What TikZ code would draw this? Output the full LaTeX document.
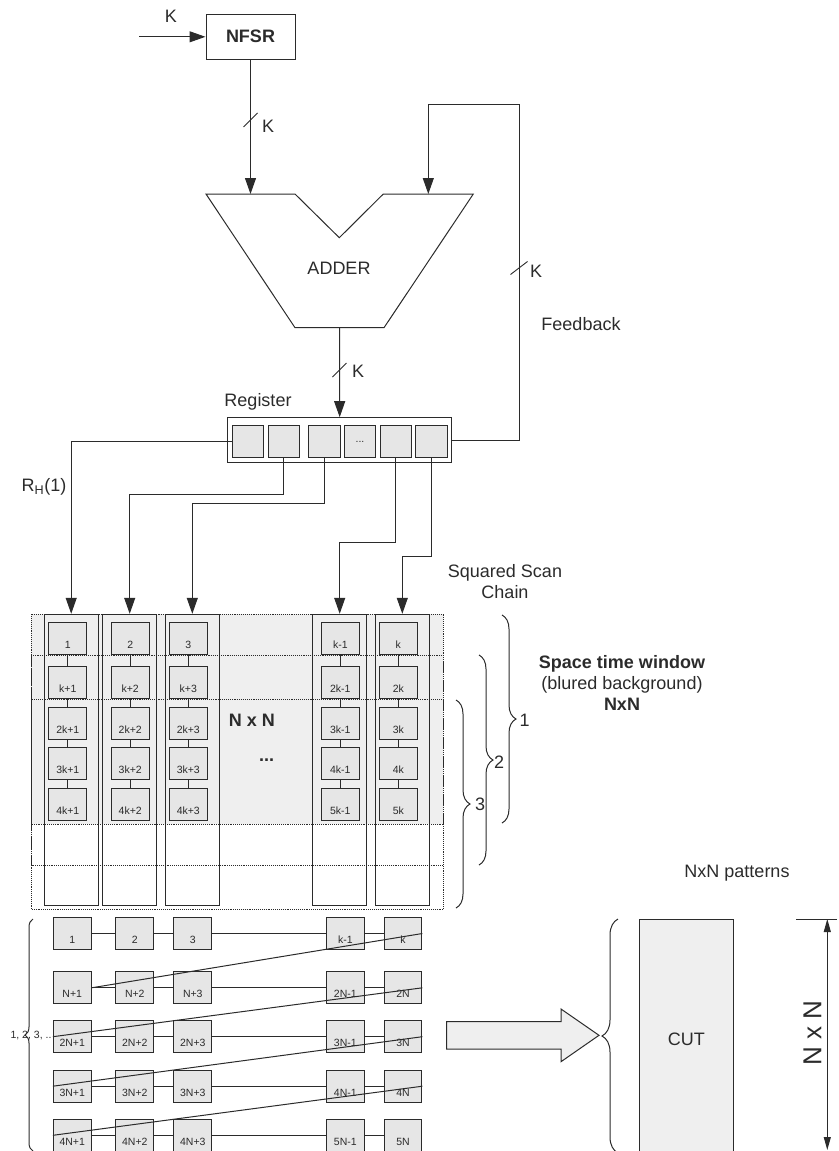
\documentclass[tikz,border=0pt]{standalone}
\usepackage{fontspec}
\setmainfont{Liberation Sans}
\usetikzlibrary{arrows.meta, positioning, calc, decorations.pathreplacing}

\definecolor{ink}{HTML}{2B2B2B}
\definecolor{cellgray}{HTML}{E6E6E6}
\definecolor{wingray}{HTML}{EFEFEF}

\tikzset{
  arr/.style={-{Triangle[length=16pt,width=11pt]}},
  cell/.style={draw, fill=cellgray, minimum width=37.7pt, minimum height=31.7pt, inner sep=0pt,
               text height=19.6pt, text depth=0pt, font=\fontsize{10.5}{12}\selectfont},
  regcell/.style={draw, fill=cellgray, minimum width=31.5pt, minimum height=31.7pt, inner sep=0pt},
  chain/.style={draw, minimum width=54pt, minimum height=291.4pt, inner sep=0pt},
  window/.style={densely dotted, line width=0.9pt},
  brc/.style={decorate, decoration={brace, amplitude=#1}},
  bus/.style={line width=0.9pt},
  small/.style={font=\fontsize{10.5}{12}\selectfont},
  big/.style={font=\fontsize{26}{30}\selectfont},
  bold/.style={font=\fontsize{18}{21}\selectfont\bfseries}
}

\begin{document}
\begin{tikzpicture}[x=1pt, y=-1pt, line width=1pt, color=ink, font=\fontsize{18}{21}\selectfont]
\useasboundingbox (0,0) rectangle (838,1151);

\node[draw, minimum width=89pt, minimum height=45pt, bold] (nfsr) at (250.5,36.8) {NFSR};
\coordinate (kin) at (139,36.8);
\node (kinlab) at (171,16) {K};
\draw[arr] (kin) -- (nfsr.west);

\coordinate (addin1) at (250.5,194);
\coordinate (addin2) at (428.3,194);
\coordinate (addout) at (339.5,327.7);
\draw (206,194) -- (295,194) -- (339.3,237.7) -- (383.3,194) -- (473.3,194)
      -- (384,327.7) -- (295,327.7) -- cycle;
\node (adder) at (339,268) {ADDER};

\draw[arr] (nfsr.south) -- (addin1);
\draw[bus] (243.5,127) -- (257.5,113);
\node (klab1) at (268,126) {K};

\node[draw, minimum width=224pt, minimum height=45pt] (reg) at (339.7,440.2) {};
\node (reglab) at (258,402) {Register};
\foreach \x [count=\i] in {248,283.8,324.5,360,395.8,431.7}
  \node[regcell] (r\i) at (\x,441.8) {};
\node[small] (regdots) at (r4) {...};

\draw[arr] (addout) -- (reg.north);
\draw[bus] (332.5,377) -- (346.5,363);
\node (klab2) at (358,371) {K};

\coordinate (fbk) at (519,104.3);
\draw[arr] (reg.east) -| (fbk) -| (addin2);
\draw[bus] (510.5,274.5) -- (527.5,261.5);
\node (klab3) at (536,271) {K};
\node (fblab) at (581,324) {Feedback};

\fill[wingray] (31,614.3) rectangle (443.3,824.3);
\draw[window] (31,614.3) rectangle (443.3,824.3);
\draw[window] (31,655) rectangle (443.3,865.3);
\draw[window] (31,699.3) rectangle (443.3,909.3);

\foreach \x [count=\i] in {71.2,129.7,192.3,339.7,402.3}
  \node[chain] (col\i) at (\x,760) {};

\foreach \cx/\a/\b/\c/\d/\e [count=\k] in {67.8/1/k+1/2k+1/3k+1/4k+1, 130.2/2/k+2/2k+2/3k+2/4k+2,
    188.3/3/k+3/2k+3/3k+3/4k+3, 340.3/k-1/2k-1/3k-1/4k-1/5k-1, 398.3/k/2k/3k/4k/5k}{
  \node[cell] (s\k1) at (\cx,638.5) {\a};
  \node[cell] (s\k2) at (\cx,682.8) {\b};
  \node[cell] (s\k3) at (\cx,723.5) {\c};
  \node[cell] (s\k4) at (\cx,763.8) {\d};
  \node[cell] (s\k5) at (\cx,804.2) {\e};
  \draw (s\k1) -- (s\k2) (s\k2) -- (s\k3) (s\k3) -- (s\k4) (s\k4) -- (s\k5);
}

\draw[arr] (r1.west) -| (col1.north);
\draw[arr] (r2.south) -- ++(0,36) -| (col2.north);
\draw[arr] (r3.south) -- ++(0,45) -| (col3.north);
\draw[arr] (r5.south) -- ++(0,84) -| (col4.north);
\draw[arr] (r6.south) -- ++(0,98) -| (col5.north);
\node (rhlab) at (44,487) {R\textsubscript{H}(1)};

\node[bold] (nxn) at (252,720) {N x N};
\node[bold] (coldots) at (266.7,760) {...};
\node[align=center] (sqlab) at (505,582) {Squared Scan\\Chain};
\node[align=center] (stw) at (622,683) {\textbf{Space time window}\\(blured background)\\\textbf{NxN}};

\draw[brc=14pt] (502,615) -- (502,823);
\draw[brc=14pt] (479,655) -- (479,865);
\draw[brc=14pt] (456,700) -- (456,908);
\node (w1lab) at (524.5,720) {1};
\node (w2lab) at (499,762) {2};
\node (w3lab) at (480,804) {3};

\foreach \ry/\a/\b/\c/\d/\e [count=\r] in {933.5/1/2/3/k-1/k, 987.8/N+1/N+2/N+3/2N-1/2N,
    1036.7/2N+1/2N+2/2N+3/3N-1/3N, 1086.2/3N+1/3N+2/3N+3/4N-1/4N, 1135.3/4N+1/4N+2/4N+3/5N-1/5N}{
  \node[cell] (p\r1) at (72.2,\ry) {\a};
  \node[cell] (p\r2) at (134.8,\ry) {\b};
  \node[cell] (p\r3) at (192.8,\ry) {\c};
  \node[cell] (p\r4) at (345.3,\ry) {\d};
  \node[cell] (p\r5) at (403,\ry) {\e};
  \draw (p\r1) -- (p\r2) (p\r2) -- (p\r3) (p\r3) -- (p\r4) (p\r4) -- (p\r5);
}
\draw (p21.east) -- (p15.east);
\foreach \r/\q in {3/2,4/3,5/4}
  \draw (p\r1.west) -- (p\q5.east);

\draw[brc=8pt] (33,1151) -- (33,919);
\node[small] (seqlab) at (31,1035) {1, 2, 3, ..};

\draw[fill=wingray] (446.7,1021.7) -- (561,1021.7) -- (561,1009) -- (599,1035.3)
      -- (561,1061.7) -- (561,1049) -- (446.7,1049) -- cycle;
\draw[brc=16pt] (618,1153) -- (618,919);
\node[draw, fill=wingray, minimum width=94pt, minimum height=240pt] (cut) at (686.3,1039) {CUT};
\node (patlab) at (737,873) {NxN patterns};

\coordinate (dimtop) at (827.3,919);
\coordinate (dimbot) at (827.3,1150);
\draw[{Triangle[length=13pt,width=7pt]}-{Triangle[length=13pt,width=7pt]}] (dimtop) -- (dimbot);
\draw (796,919) -- (836.7,919);
\node[big, rotate=90] (dimlab) at (812.5,1033) {N x N};
\end{tikzpicture}
\end{document}
